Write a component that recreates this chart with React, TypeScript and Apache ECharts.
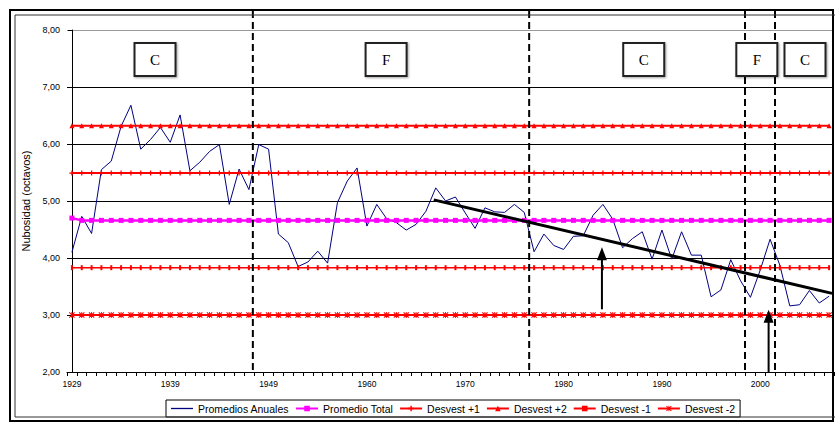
import React, { useEffect, useRef } from "react";
import * as echarts from "echarts";

// Years of the record (one year between 1949 and 1960 has no data)
const years = [
  "1929", "1930", "1931", "1932", "1933", "1934", "1935", "1936", "1937", "1938",
  "1939", "1940", "1941", "1942", "1943", "1944", "1945", "1946", "1947", "1948",
  "1949", "1951", "1952", "1953", "1954", "1955", "1956", "1957", "1958", "1959",
  "1960", "1961", "1962", "1963", "1964", "1965", "1966", "1967", "1968", "1969",
  "1970", "1971", "1972", "1973", "1974", "1975", "1976", "1977", "1978", "1979",
  "1980", "1981", "1982", "1983", "1984", "1985", "1986", "1987", "1988", "1989",
  "1990", "1991", "1992", "1993", "1994", "1995", "1996", "1997", "1998", "1999",
  "2000", "2001", "2002", "2003", "2004", "2005", "2006", "2007",
];

// Annual mean cloudiness (octas)
const promediosAnuales = [
  4.10, 4.73, 4.43, 5.55, 5.70, 6.31, 6.68, 5.91, 6.08, 6.29,
  6.03, 6.51, 5.53, 5.68, 5.87, 5.99, 4.94, 5.56, 5.20, 5.99,
  5.91, 4.42, 4.27, 3.85, 3.93, 4.12, 3.91, 4.97, 5.35, 5.58,
  4.56, 4.94, 4.69, 4.62, 4.49, 4.59, 4.82, 5.23, 5.00, 5.07,
  4.79, 4.52, 4.88, 4.81, 4.80, 4.94, 4.80, 4.11, 4.42, 4.22,
  4.15, 4.38, 4.39, 4.75, 4.94, 4.68, 4.18, 4.34, 4.46, 3.98,
  4.49, 3.98, 4.46, 4.05, 4.05, 3.32, 3.44, 3.97, 3.60, 3.31,
  3.79, 4.33, 3.87, 3.16, 3.18, 3.43, 3.21, 3.33,
];

// Reference levels
const promedioTotalInicio = 4.70;
const promedioTotal = 4.66;
const desvestMas1 = 5.49;
const desvestMas2 = 6.32;
const desvestMenos1 = 3.83;
const desvestMenos2 = 3.0;

// Linear trend drawn over the later period: [position, value]
const tendencia = [
  [36.8, 5.02],
  [77.3, 3.38],
];

// Period dividers (positions between years) and period labels
const divisiones = [18.4, 46.5, 68.45, 71.5];
const periodos = [
  { etiqueta: "C", pos: 8.4 },
  { etiqueta: "F", pos: 31.9 },
  { etiqueta: "C", pos: 58.1 },
  { etiqueta: "F", pos: 69.6 },
  { etiqueta: "C", pos: 74.5 },
];
// Arrows: [position, from value, to value]
const flechas = [
  [53.9, 3.1, 4.19],
  [70.85, 2.0, 3.09],
];

const yTicks = [2, 3, 4, 5, 6, 7, 8];

const PLUS = "path://M3,0H5V3H8V5H5V8H3V5H0V3H3Z";
const STAR =
  "path://M0,1L1,0L4,3L7,0L8,1L5,4L8,7L7,8L4,5L1,8L0,7L3,4ZM3.4,0H4.6V8H3.4Z";
const DASH = "path://M0,0H2V6H0Z";
const LINE_ICON = "path://M0,0H22V1.3H0Z";

const FONT = "Arial, 'Liberation Sans', sans-serif";

export default function App() {
  const ref = useRef<HTMLDivElement>(null);

  useEffect(() => {
    if (!ref.current) return;
    const chart = echarts.init(ref.current, undefined, { renderer: "svg" });

    const constante = (v: number) => years.map(() => v);
    const totalSerie = years.map((_, i) => (i === 0 ? promedioTotalInicio : promedioTotal));

    const redLine = (name: string, data: number[], symbol: string, size: any, width: number) => ({
      name,
      type: "line",
      data,
      symbol,
      symbolSize: size,
      showSymbol: true,
      itemStyle: { color: "#ff0000" },
      lineStyle: { color: "#ff0000", width },
      emphasis: { disabled: true },
    });

    chart.setOption({
      animation: false,
      backgroundColor: "#ffffff",
      textStyle: { fontFamily: FONT },
      grid: { left: 67, right: 1, top: 30, bottom: 52 },
      legend: {
        data: [
          { name: "Promedios Anuales", icon: LINE_ICON, itemStyle: { color: "#000080" } },
          "Promedio Total",
          "Desvest +1",
          "Desvest +2",
          "Desvest -1",
          "Desvest -2",
        ],
        left: 166,
        top: 400,
        itemWidth: 22,
        itemHeight: 7,
        itemGap: 6,
        padding: [3, 5],
        borderColor: "#000",
        borderWidth: 1,
        textStyle: { fontSize: 10.5, color: "#000", fontFamily: FONT },
      },
      xAxis: [
        {
          type: "category",
          data: years,
          boundaryGap: true,
          axisLine: { lineStyle: { color: "#000", width: 1 } },
          axisTick: { show: true, interval: 0, length: 4, lineStyle: { color: "#000" } },
          axisLabel: { interval: 9, fontSize: 8.5, color: "#000", margin: 7, fontFamily: FONT },
          splitLine: { show: false },
        },
        {
          type: "value",
          min: -0.5,
          max: years.length - 0.5,
          show: false,
          splitLine: { show: false },
        },
      ],
      yAxis: {
        type: "value",
        min: 2,
        max: 8,
        interval: 1,
        name: "Nubosidad (octavos)",
        nameLocation: "middle",
        nameGap: 29,
        nameTextStyle: { fontSize: 11, color: "#000", fontFamily: FONT },
        axisLine: { show: true, lineStyle: { color: "#000" } },
        axisTick: { show: true, length: 4, lineStyle: { color: "#000" } },
        axisLabel: {
          fontSize: 9,
          color: "#000",
          margin: 7,
          fontFamily: FONT,
          formatter: (v: number) => v.toFixed(2).replace(".", ","),
        },
        splitLine: {
          show: true,
          lineStyle: {
            color: yTicks.map((t) => (t === 8 ? "#999" : "#000")),
            width: 1,
          },
        },
      },
      series: [
        {
          name: "Promedios Anuales",
          type: "line",
          data: promediosAnuales,
          symbol: "none",
          itemStyle: { color: "#000080" },
          lineStyle: { color: "#000080", width: 1 },
          emphasis: { disabled: true },
        },
        {
          name: "Promedio Total",
          type: "line",
          data: totalSerie,
          symbol: "rect",
          symbolSize: 5,
          showSymbol: true,
          itemStyle: { color: "#ff00ff" },
          lineStyle: { color: "#ff00ff", width: 2.5 },
          emphasis: { disabled: true },
        },
        redLine("Desvest +1", constante(desvestMas1), PLUS, 5, 2),
        redLine("Desvest +2", constante(desvestMas2), "triangle", 5, 2),
        redLine("Desvest -1", constante(desvestMenos1), DASH, [2, 5], 1.5),
        redLine("Desvest -2", constante(desvestMenos2), STAR, 6, 2),
        {
          name: "Tendencia",
          type: "line",
          xAxisIndex: 1,
          yAxisIndex: 0,
          data: tendencia,
          symbol: "none",
          z: 5,
          lineStyle: { color: "#000", width: 3 },
          emphasis: { disabled: true },
        },
      ],
    });

    // Annotations positioned through the series' coordinate system
    const px = (x: number, y: number) =>
      chart.convertToPixel({ seriesIndex: 6 }, [x, y]) as number[];
    const yBase = px(0, 2)[1];
    const graphics: any[] = [];

    // Chart frame
    graphics.push({
      type: "rect",
      shape: { x: 10, y: 10, width: 823, height: 411 },
      style: { fill: "none", stroke: "#000", lineWidth: 2 },
      z: 100,
    });
    graphics.push({
      type: "rect",
      shape: { x: 15, y: 15, width: 830, height: 402 },
      style: { fill: "none", stroke: "#333", lineWidth: 1 },
      z: 100,
    });

    divisiones.forEach((d) => {
      const x = px(d, 2)[0];
      graphics.push({
        type: "line",
        shape: { x1: x, y1: 11, x2: x, y2: yBase },
        style: { stroke: "#000", lineWidth: 2, lineDash: [7, 4] },
        z: 50,
      });
    });

    periodos.forEach((p) => {
      const [cx, cy] = px(p.pos, 7.49);
      graphics.push({
        type: "rect",
        shape: { x: cx - 20, y: cy - 16, width: 41, height: 33 },
        style: {
          fill: "#fff",
          stroke: "#222",
          lineWidth: 2,
          shadowColor: "rgba(0,0,0,0.35)",
          shadowBlur: 2,
          shadowOffsetX: 1,
          shadowOffsetY: 1,
        },
        z: 60,
      });
      graphics.push({
        type: "text",
        x: cx + 0.5,
        y: cy + 1,
        style: {
          text: p.etiqueta,
          font: "15px 'Liberation Serif', 'Times New Roman', serif",
          fill: "#000",
          align: "center",
          verticalAlign: "middle",
        },
        z: 61,
      });
    });

    flechas.forEach(([pos, from, to]) => {
      const [x, yTo] = px(pos, to);
      const yFrom = px(pos, from)[1];
      graphics.push({
        type: "line",
        shape: { x1: x, y1: yFrom, x2: x, y2: yTo + 10 },
        style: { stroke: "#000", lineWidth: 2 },
        z: 70,
      });
      graphics.push({
        type: "polygon",
        shape: { points: [[x, yTo], [x - 5, yTo + 13], [x + 5, yTo + 13]] },
        style: { fill: "#000" },
        z: 70,
      });
    });

    chart.setOption({ graphic: graphics });

    return () => chart.dispose();
  }, []);

  return (
    <div
      ref={ref}
      style={{ position: "absolute", left: 0, top: 0, width: 835, height: 424 }}
    />
  );
}
